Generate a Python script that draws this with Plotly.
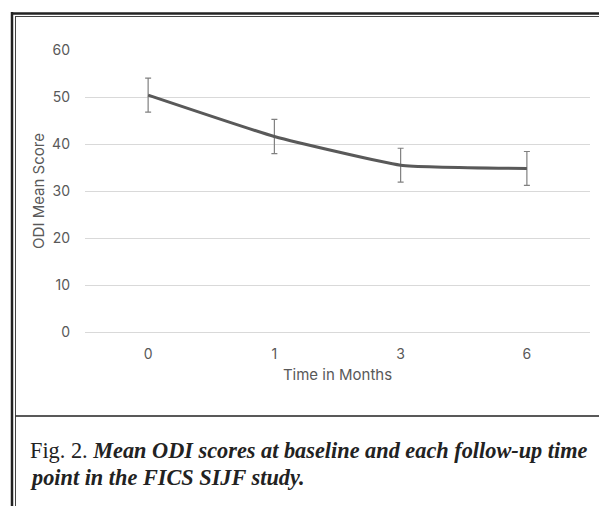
import plotly.graph_objects as go

# Data
months = ["0", "1", "3", "6"]
odi_mean = [50.4, 41.6, 35.5, 34.8]
odi_err = [3.6, 3.65, 3.6, 3.6]
y_ticks = [0, 10, 20, 30, 40, 50, 60]
x_title = "Time in Months"
y_title = "ODI Mean Score"
caption_1 = "Fig. 2. <b><i>Mean ODI scores at baseline and each follow-up time</i></b>"
caption_2 = "<b><i>point in the FICS SIJF study.</i></b>"

W, H = 599, 506
L, R, T, B = 85, 9, 50, 174
pw, ph = W - L - R, H - T - B


def px(x):
    return (x - L) / pw


def py(y):
    return (H - B - y) / ph


fig = go.Figure()
fig.add_trace(go.Scatter(
    x=months, y=odi_mean, mode="lines",
    line=dict(color="#595959", width=3, shape="spline", smoothing=0.4),
    error_y=dict(type="data", array=odi_err, visible=True,
                 color="#808080", thickness=1.2, width=3),
    showlegend=False, hoverinfo="skip",
))

sans = "Inter, Roboto, sans-serif"
tick_font = dict(family=sans, size=14, color="#595959")

fig.update_layout(
    width=W, height=H,
    margin=dict(l=L, r=R, t=T, b=B, pad=0, autoexpand=False),
    paper_bgcolor="white", plot_bgcolor="white",
    xaxis=dict(type="category", categoryorder="array", categoryarray=months, automargin=False,
               range=[-0.5, 3.5], showgrid=False, zeroline=False, showline=False,
               ticks="", tickfont=tick_font, ticklabelstandoff=12,
               title=dict(text=x_title, font=dict(family=sans, size=15, color="#595959"),
                          standoff=8)),
    yaxis=dict(range=[0, 60], tickvals=y_ticks, showgrid=True, gridcolor="#d9d9d9", automargin=False,
               gridwidth=1, zeroline=True, zerolinecolor="#d9d9d9", zerolinewidth=1,
               showline=False, ticks="", tickfont=tick_font, ticklabelstandoff=14,
               title=dict(text=y_title, font=dict(family=sans, size=15, color="#595959"),
                          standoff=3)),
)

shapes = []
# left double border
shapes.append(dict(type="line", xref="paper", yref="paper", x0=px(12), x1=px(12), y0=py(12), y1=py(H + 2),
                   line=dict(color="#222222", width=2.5)))
shapes.append(dict(type="line", xref="paper", yref="paper", x0=px(15.5), x1=px(15.5), y0=py(16), y1=py(H + 2),
                   line=dict(color="#444444", width=1)))
# top double border
shapes.append(dict(type="line", xref="paper", yref="paper", x0=px(11), x1=px(W + 2), y0=py(13.5), y1=py(13.5),
                   line=dict(color="#222222", width=2.5)))
shapes.append(dict(type="line", xref="paper", yref="paper", x0=px(15.5), x1=px(W + 2), y0=py(16.5), y1=py(16.5),
                   line=dict(color="#444444", width=1)))
# separator
shapes.append(dict(type="line", xref="paper", yref="paper", x0=px(15.5), x1=px(W + 2), y0=py(416), y1=py(416),
                   line=dict(color="#222222", width=1.5)))
fig.update_layout(shapes=shapes)

cap_font = dict(family="Liberation Serif, Times New Roman, serif", size=22.3, color="#222222")
fig.add_annotation(text=caption_1, xref="paper", yref="paper", x=px(28), y=py(450),
                   xanchor="left", yanchor="middle", showarrow=False, font=cap_font)
fig.add_annotation(text=caption_2, xref="paper", yref="paper", x=px(28), y=py(477),
                   xanchor="left", yanchor="middle", showarrow=False, font=cap_font)

fig.write_html("out.html", config={"displayModeBar": False},
               post_script="document.body.style.margin='0';document.body.style.overflow='hidden';")
